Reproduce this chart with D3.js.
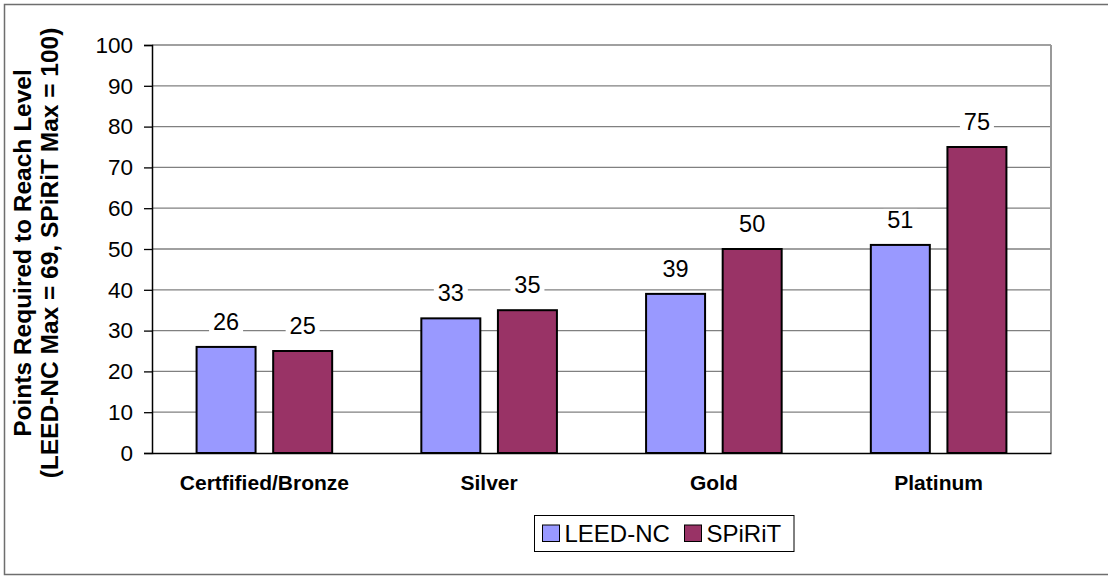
<!DOCTYPE html>
<html>
<head>
<meta charset="utf-8">
<script src="https://cdn.jsdelivr.net/npm/d3@7"></script>
<style>
  html, body { margin: 0; padding: 0; background: #fff; }
  svg { display: block; font-family: "Liberation Sans", Arial, sans-serif; }
</style>
</head>
<body>
<svg id="chart" width="1108" height="576"></svg>
<script>
// Certification levels and points needed in each rating system
const categories = ["Certfified/Bronze", "Silver", "Gold", "Platinum"];
const seriesNames = ["LEED-NC", "SPiRiT"];
const leedValues = [26, 33, 39, 51];
const spiritValues = [25, 35, 50, 75];
const yTicks = [0, 10, 20, 30, 40, 50, 60, 70, 80, 90, 100];
const seriesColors = ["#9999FF", "#993366"];
const axisTitleLines = ["Points Required to Reach Level", "(LEED-NC Max = 69, SPiRiT Max = 100)"];

const rows = categories.map((c, i) => ({
  category: c,
  values: [
    { series: seriesNames[0], value: leedValues[i] },
    { series: seriesNames[1], value: spiritValues[i] }
  ]
}));

const svg = d3.select("#chart");
const plot = { left: 152, right: 1051, top: 45, bottom: 453 };

// Outer chart frame
svg.append("rect")
  .attr("x", 4.5).attr("y", 4.5)
  .attr("width", 1110).attr("height", 570)
  .attr("fill", "#fff")
  .attr("stroke", "#6e6e6e").attr("stroke-width", 1.5);

const x0 = d3.scaleBand().domain(categories).range([plot.left, plot.right]).paddingInner(0).paddingOuter(0);
const x1 = d3.scaleBand().domain(seriesNames).range([0, x0.bandwidth()]).paddingInner(0.2298).paddingOuter(0.582);
const y = d3.scaleLinear().domain([0, 100]).range([plot.bottom, plot.top]);
const color = d3.scaleOrdinal().domain(seriesNames).range(seriesColors);

// Horizontal gridlines
svg.append("g")
  .selectAll("line")
  .data(yTicks.filter(t => t > 0))
  .join("line")
  .attr("x1", plot.left).attr("x2", plot.right)
  .attr("y1", d => y(d)).attr("y2", d => y(d))
  .attr("stroke", "#808080").attr("stroke-width", 1.3);

// Right edge of plot area
svg.append("line")
  .attr("x1", plot.right).attr("x2", plot.right)
  .attr("y1", plot.top).attr("y2", plot.bottom)
  .attr("stroke", "#999").attr("stroke-width", 2);

// Bars
const groups = svg.append("g")
  .selectAll("g")
  .data(rows)
  .join("g")
  .attr("transform", d => `translate(${x0(d.category)},0)`);

groups.selectAll("rect")
  .data(d => d.values)
  .join("rect")
  .attr("x", d => x1(d.series))
  .attr("y", d => y(d.value))
  .attr("width", x1.bandwidth())
  .attr("height", d => y(0) - y(d.value))
  .attr("fill", d => color(d.series))
  .attr("stroke", "#000").attr("stroke-width", 2);

// Value labels with white backing
const labels = groups.selectAll("g.lbl")
  .data(d => d.values)
  .join("g")
  .attr("class", "lbl")
  .attr("transform", d => `translate(${x1(d.series) + x1.bandwidth() / 2},${y(d.value) - 17})`);

labels.append("rect")
  .attr("x", -17).attr("y", -19)
  .attr("width", 34).attr("height", 23)
  .attr("fill", "#fff");

labels.append("text")
  .attr("text-anchor", "middle")
  .attr("font-size", 23.5)
  .attr("fill", "#000")
  .text(d => d.value);

// Y axis
const yAxis = svg.append("g")
  .attr("transform", `translate(${plot.left},0)`)
  .call(d3.axisLeft(y).tickValues(yTicks).tickSize(8).tickPadding(11).tickFormat(d3.format("d")));
yAxis.select(".domain").attr("stroke", "#000").attr("stroke-width", 1.5);
yAxis.selectAll(".tick line").attr("stroke", "#000").attr("stroke-width", 1.3);
yAxis.selectAll(".tick text")
  .attr("font-size", 22.5)
  .attr("font-family", "Liberation Sans, Arial, sans-serif")
  .attr("fill", "#000");

// X axis baseline and category labels
const xAxis = svg.append("g")
  .attr("transform", `translate(0,${plot.bottom})`)
  .call(d3.axisBottom(x0).tickSize(0).tickPadding(0));
xAxis.select(".domain").attr("stroke", "#000").attr("stroke-width", 1.5);
xAxis.selectAll(".tick text")
  .attr("y", 37)
  .attr("dy", 0)
  .attr("font-size", 21)
  .attr("font-weight", "bold")
  .attr("font-family", "Liberation Sans, Arial, sans-serif")
  .attr("fill", "#000");

// Y axis title (two centered lines, rotated)
const titleCenterY = 253;
const title = svg.append("text")
  .attr("transform", `translate(0,${titleCenterY}) rotate(-90)`)
  .attr("text-anchor", "middle")
  .attr("font-size", 24.5)
  .attr("font-weight", "bold")
  .attr("fill", "#000");
title.selectAll("tspan")
  .data(axisTitleLines)
  .join("tspan")
  .attr("x", 0)
  .attr("y", (d, i) => 31 + i * 27)
  .text(d => d);

// Legend
const legend = svg.append("g");
legend.append("rect")
  .attr("x", 534.5).attr("y", 515.5)
  .attr("width", 259.5).attr("height", 36)
  .attr("fill", "#fff")
  .attr("stroke", "#000").attr("stroke-width", 1);

const legendX = [542.5, 684.5];
const items = legend.selectAll("g.item")
  .data(seriesNames)
  .join("g")
  .attr("class", "item")
  .attr("transform", (d, i) => `translate(${legendX[i]},525)`);
items.append("rect")
  .attr("width", 17).attr("height", 16.5)
  .attr("fill", d => color(d))
  .attr("stroke", "#000").attr("stroke-width", 1);
items.append("text")
  .attr("x", 22).attr("y", 17)
  .attr("font-size", 24)
  .attr("fill", "#000")
  .text(d => d);
</script>
</body>
</html>
